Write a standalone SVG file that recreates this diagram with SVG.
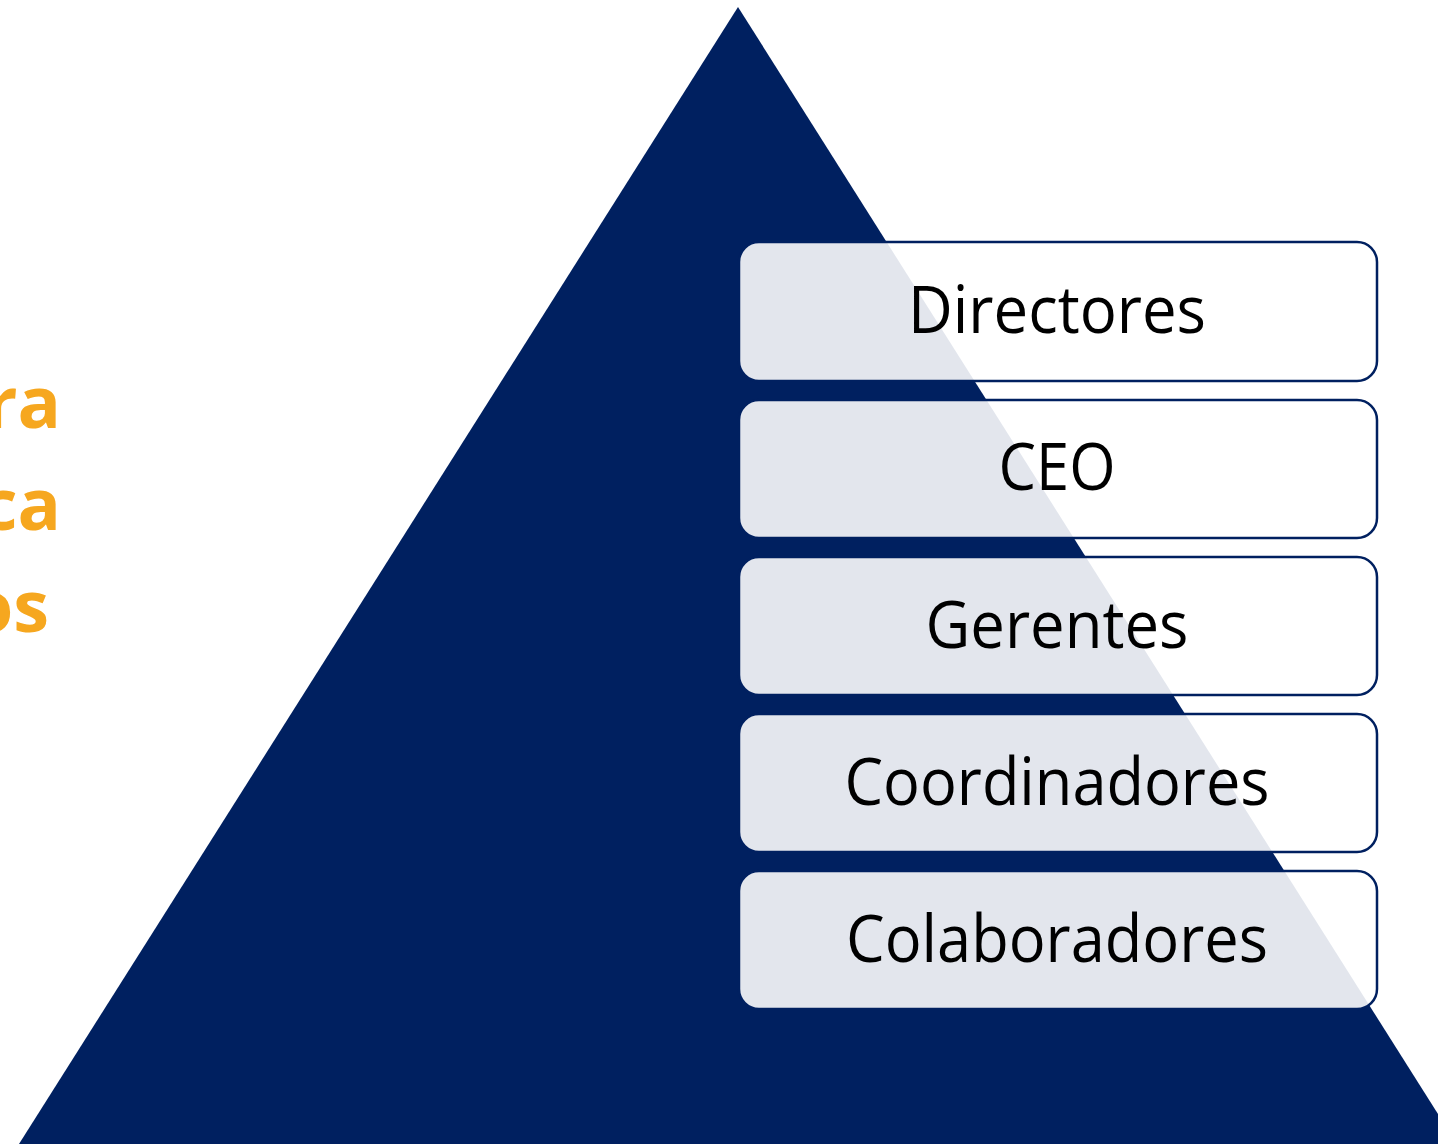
<svg xmlns="http://www.w3.org/2000/svg" width="1438" height="1144" viewBox="0 0 1438 1144">
  <style>
    .box rect { fill: #ffffff; fill-opacity: 0.89; stroke: #002060; stroke-width: 2.5; }
    .box text { font-family: "Open Sans", "Noto Sans", sans-serif; font-size: 66px; fill: #000000; text-anchor: middle; }
    .side { font-family: "Open Sans", "Noto Sans", sans-serif; font-weight: bold; font-size: 72px; fill: #f6a71f; text-anchor: end; }
  </style>
  <rect width="1438" height="1144" fill="#ffffff"/>
  <g id="pyramid">
    <polygon points="738,7 19,1144 1457,1144" fill="#002060"/>
  </g>
  <g id="side-text">
    <text class="side" x="61" y="428">ra</text>
    <text class="side" x="61" y="530">ca</text>
    <text class="side" x="49" y="632">os</text>
  </g>
  <g id="connectors"></g>
  <g id="node-directores" class="box">
    <rect x="739" y="242" width="638" height="139" rx="20" ry="20"/>
    <text x="1057" y="333" textLength="298" lengthAdjust="spacingAndGlyphs">Directores</text>
  </g>
  <g id="node-ceo" class="box">
    <rect x="739" y="400" width="638" height="138" rx="20" ry="20"/>
    <text x="1057" y="490" textLength="117" lengthAdjust="spacingAndGlyphs">CEO</text>
  </g>
  <g id="node-gerentes" class="box">
    <rect x="739" y="557" width="638" height="138" rx="20" ry="20"/>
    <text x="1057" y="648" textLength="263" lengthAdjust="spacingAndGlyphs">Gerentes</text>
  </g>
  <g id="node-coordinadores" class="box">
    <rect x="739" y="714" width="638" height="138" rx="20" ry="20"/>
    <text x="1057" y="805" textLength="425" lengthAdjust="spacingAndGlyphs">Coordinadores</text>
  </g>
  <g id="node-colaboradores" class="box">
    <rect x="739" y="871" width="638" height="138" rx="20" ry="20"/>
    <text x="1057" y="962" textLength="422" lengthAdjust="spacingAndGlyphs">Colaboradores</text>
  </g>
</svg>
